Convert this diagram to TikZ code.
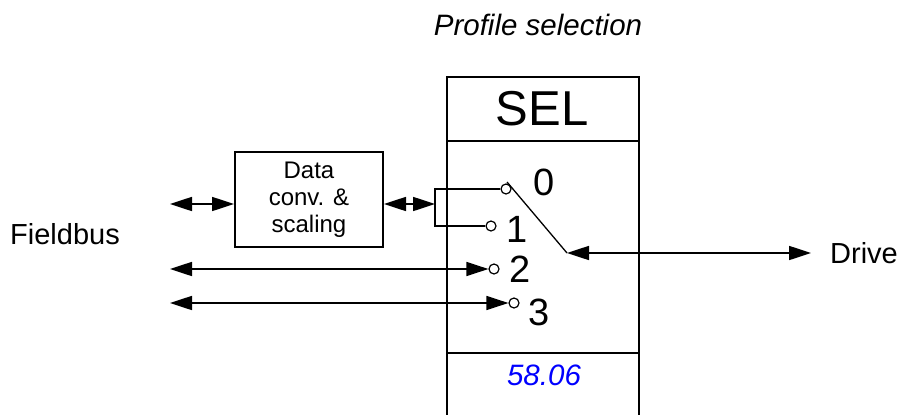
\documentclass[tikz,border=0pt]{standalone}
\usepackage{fontspec}
\setmainfont{Liberation Sans}
\usetikzlibrary{arrows.meta}
\definecolor{parBlue}{RGB}{0, 0, 255}

\begin{document}
\begin{tikzpicture}[x=1pt, y=-1pt,
        dbl/.style={{Triangle[length=22pt,width=14pt]}-{Triangle[length=22pt,width=14pt]}, line width=1.7pt},
        contact/.style={circle, draw, line width=1.2pt, fill=white, inner sep=0pt, minimum size=10pt},
        label/.style={inner sep=0pt, font=\fontsize{29}{33}\selectfont}]
        \useasboundingbox (0,0) rectangle (900,415);
        \draw[line width=2pt] (447,415) -- (447,77) -- (639,77) -- (639,415);
        \draw[line width=2pt] (447,141) -- (639,141);
        \draw[line width=2pt] (447,353) -- (639,353);
        \node[label, font=\fontsize{29.5}{33}\selectfont\itshape, anchor=base] (title) at (538,35) {Profile selection};
        \node[inner sep=0pt, font=\fontsize{49}{53}\selectfont, anchor=base] (sel) at (542,125) {SEL};
        \node[label, font=\fontsize{29.5}{33}\selectfont\itshape, text=parBlue, anchor=base] (par) at (544,385) {58.06};
        \node[label, anchor=base west] (fieldbus) at (10,244) {Fieldbus};
        \node[label, anchor=base west] (drive) at (830,263) {Drive};
        \node[draw, line width=2pt, minimum width=148pt, minimum height=95pt, inner sep=0pt, align=center,
              font=\fontsize{24}{27}\selectfont] (conv) at (309,199.5) {Data\\conv. \&\\scaling};
        \node[contact] (c0) at (506,189) {};
        \node[contact] (c1) at (491,226) {};
        \node[contact] (c2) at (494,269) {};
        \node[contact] (c3) at (514,303) {};
        \node[inner sep=0pt, font=\fontsize{38}{42}\selectfont, anchor=base] (n0) at (544,195) {0};
        \node[inner sep=0pt, font=\fontsize{38}{42}\selectfont, anchor=base] (n1) at (517,242) {1};
        \node[inner sep=0pt, font=\fontsize{38}{42}\selectfont, anchor=base] (n2) at (520,282) {2};
        \node[inner sep=0pt, font=\fontsize{38}{42}\selectfont, anchor=base] (n3) at (539,325) {3};
        \coordinate (fb1) at (170,204);
        \coordinate (brk) at (435,204);
        \coordinate (fb2) at (170,269);
        \coordinate (fb3) at (170,303);
        \coordinate (armtop) at (507,182);
        \coordinate (pivot) at (567,253);
        \coordinate (drv) at (811,253);
        \draw[dbl] (fb1) -- (fb1 -| conv.west);
        \draw[dbl] (brk -| conv.east) -- (brk);
        \draw[line width=1.7pt] (c0.west) -- (c0.west -| brk) -- (c1.west -| brk) -- (c1.west);
        \draw[dbl] (fb2) -- (c2.west);
        \draw[dbl] (fb3) -- (c3.west);
        \draw[line width=1.3pt] (armtop) -- (pivot);
        \draw[dbl] (pivot) -- (drv);
      \end{tikzpicture}
\end{document}
